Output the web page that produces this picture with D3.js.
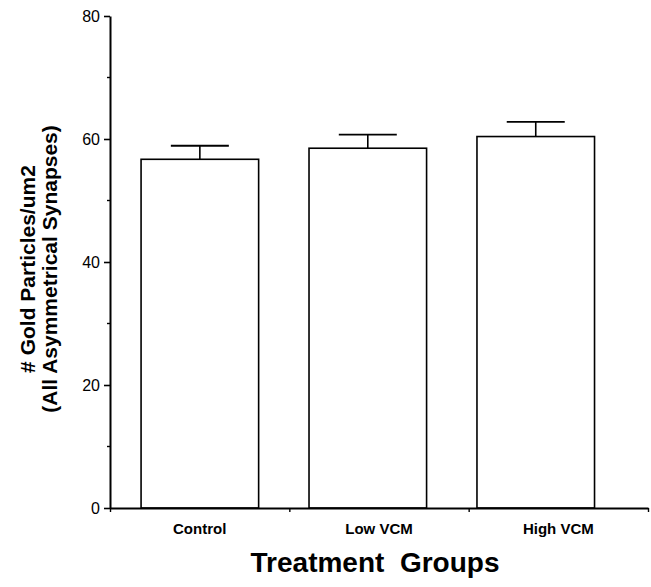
<!DOCTYPE html>
<html>
<head>
<meta charset="utf-8">
<script src="https://cdn.jsdelivr.net/npm/d3@7"></script>
<style>
  body { margin: 0; background: #fff; }
  text { font-family: "Liberation Sans", Arial, sans-serif; fill: #000; }
</style>
</head>
<body>
<div id="chart"></div>
<script>
// data
const groups = ["Control", "Low VCM", "High VCM"];
const means = [56.7, 58.5, 60.4];
const errors = [2.2, 2.2, 2.4];
const yTicks = [0, 20, 40, 60, 80];
const yMinor = [10, 30, 50, 70];

const width = 651, height = 587;
const svg = d3.select("#chart").append("svg")
  .attr("width", width).attr("height", height);

const x0 = 110, x1 = 648, yTop = 16, yBot = 508;

const y = d3.scaleLinear().domain([0, 80]).range([yBot, yTop]);

// axis positions (category boundaries) and bar positions
const xAxisScale = d3.scaleLinear().domain([0, groups.length]).range([x0, x1]);
const xBar = d3.scaleBand().domain(groups).range([110, 625.6])
  .paddingInner(0.3).paddingOuter(0.185);

// bars
svg.selectAll("rect.bar").data(groups).enter().append("rect")
  .attr("class", "bar")
  .attr("x", d => xBar(d))
  .attr("y", (d, i) => y(means[i]))
  .attr("width", xBar.bandwidth())
  .attr("height", (d, i) => yBot - y(means[i]))
  .attr("fill", "#fff").attr("stroke", "#000").attr("stroke-width", 1.6);

// error bars (upper only)
const eb = svg.selectAll("g.err").data(groups).enter().append("g");
eb.append("line")
  .attr("x1", d => xBar(d) + xBar.bandwidth() / 2)
  .attr("x2", d => xBar(d) + xBar.bandwidth() / 2)
  .attr("y1", (d, i) => y(means[i]))
  .attr("y2", (d, i) => y(means[i] + errors[i]))
  .attr("stroke", "#000").attr("stroke-width", 1.6);
eb.append("line")
  .attr("x1", d => xBar(d) + xBar.bandwidth() / 2 - 29)
  .attr("x2", d => xBar(d) + xBar.bandwidth() / 2 + 29)
  .attr("y1", (d, i) => y(means[i] + errors[i]))
  .attr("y2", (d, i) => y(means[i] + errors[i]))
  .attr("stroke", "#000").attr("stroke-width", 1.8);

// y axis
const gy = svg.append("g").attr("transform", `translate(${x0},0)`)
  .call(d3.axisLeft(y).tickValues(yTicks).tickSize(6).tickPadding(4).tickSizeOuter(0));
gy.select(".domain").attr("stroke-width", 2);
gy.selectAll(".tick line").attr("stroke-width", 1.6);
gy.selectAll(".tick text").style("font-size", "16px");
svg.append("g").attr("transform", `translate(${x0},0)`)
  .selectAll("line").data(yMinor).enter().append("line")
  .attr("x1", -3).attr("x2", 0)
  .attr("y1", d => y(d)).attr("y2", d => y(d))
  .attr("stroke", "#000").attr("stroke-width", 1.4);

// x axis
const gx = svg.append("g").attr("transform", `translate(0,${yBot})`)
  .call(d3.axisBottom(xAxisScale).tickValues(d3.range(groups.length + 1))
    .tickSize(4).tickSizeOuter(0).tickFormat(""));
gx.select(".domain").attr("stroke-width", 2);
gx.selectAll(".tick line").attr("stroke-width", 1.4);

// category labels
svg.selectAll("text.cat").data(groups).enter().append("text")
  .attr("class", "cat")
  .attr("x", (d, i) => xAxisScale(i + 0.5))
  .attr("y", 534)
  .attr("text-anchor", "middle")
  .style("font-size", "15px").style("font-weight", "bold")
  .text(d => d);

// x title
svg.append("text")
  .attr("x", 375).attr("y", 572)
  .attr("text-anchor", "middle")
  .style("font-size", "28px").style("font-weight", "bold")
  .style("white-space", "pre")
  .text("Treatment  Groups");

// y title
const yt = svg.append("text")
  .attr("transform", "translate(0,269) rotate(-90)")
  .attr("text-anchor", "middle")
  .style("font-size", "21px").style("font-weight", "bold");
yt.append("tspan").attr("x", 0).attr("y", 35).text("# Gold Particles/um2");
yt.append("tspan").attr("x", 0).attr("y", 57).text("(All Asymmetrical Synapses)");
</script>
</body>
</html>
